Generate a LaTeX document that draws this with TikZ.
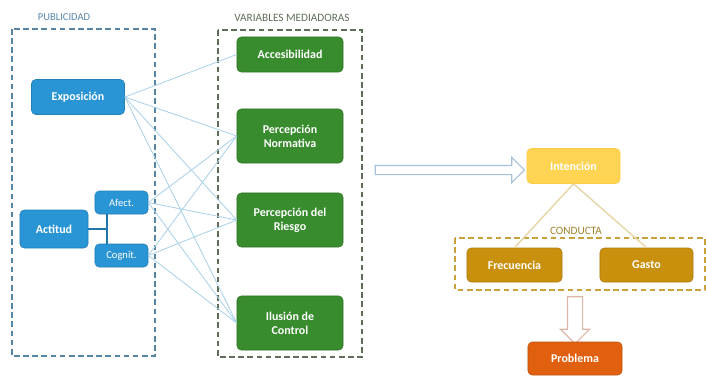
\documentclass[tikz,border=0pt]{standalone}
\usepackage{fontspec}
\setmainfont{Carlito}
\usetikzlibrary{positioning,shapes.arrows}
\definecolor{pubblue}{HTML}{2A95D5}
\definecolor{medgreen}{HTML}{388C2E}
\definecolor{intyellow}{HTML}{FFD452}
\definecolor{condochre}{HTML}{C8900C}
\definecolor{probred}{HTML}{E0600F}
\definecolor{linkblue}{HTML}{A9D2E8}
\definecolor{linktan}{HTML}{E6D6A6}
\definecolor{framepub}{HTML}{5586A8}
\definecolor{framemed}{HTML}{5E6E58}
\definecolor{framecond}{HTML}{C8A13A}
\definecolor{arrowblue}{HTML}{A8C0D8}
\definecolor{arrowpink}{HTML}{DDB8A8}
\tikzset{
  bx/.style={rounded corners=3pt, align=center, text=white, inner sep=2pt,
             font=\fontsize{8.5}{10}\selectfont\bfseries},
  bx pub/.style={bx, fill=pubblue, draw=pubblue!85!black},
  bx sub/.style={bx pub, font=\fontsize{7.5}{9}\selectfont},
  bx med/.style={bx, fill=medgreen, draw=medgreen!85!black, minimum width=26.5mm},
  bx int/.style={bx, fill=intyellow, draw=intyellow!90!orange},
  bx cond/.style={bx, fill=condochre, draw=condochre!85!black},
  bx prob/.style={bx, fill=probred, draw=probred!85!black},
  bx frame/.style={dash pattern=on 4pt off 2.5pt, line width=1.1pt},
  bx link/.style={draw=linkblue, line width=0.6pt},
  bx head/.style={font=\fontsize{7.5}{9}\selectfont, inner sep=0pt},
  bx hollow/.style={single arrow, draw, fill=white, line width=0.8pt, inner sep=0pt,
                    single arrow tip angle=90},
}
\begin{document}
\begin{tikzpicture}[x=0.025cm, y=-0.025cm]
  \useasboundingbox (0,0) rectangle (706,377);
  % publicidad
  \draw[bx frame, framepub] (12,29) rectangle (155,356);
  \node[bx head, text=framepub] (hpub) at (64,17) {PUBLICIDAD};
  \node[bx pub, minimum width=23.25mm, minimum height=8.75mm] (expo) at (78,97) {Exposición};
  \node[bx pub, minimum width=17mm, minimum height=9.5mm] (acti) at (54,229) {Actitud};
  \node[bx sub, minimum width=13.25mm, minimum height=5.75mm] (afec) at (121.5,202.5) {Afect.};
  \node[bx sub, minimum width=13.25mm, minimum height=5.75mm] (cogn) at (121.5,255.5) {Cognit.};
  \coordinate (rama) at (107,229);
  \draw[pubblue!80!black, line width=0.8pt] (acti.east) -- (rama);
  \draw[pubblue!80!black, line width=0.8pt] (afec.south -| rama) -- (cogn.north -| rama);
  % variables mediadoras
  \draw[bx frame, framemed] (218,30) rectangle (362,357);
  \node[bx head, text=framemed, font=\fontsize{8}{9}\selectfont] (hmed) at (292,18) {VARIABLES MEDIADORAS};
  \node[bx med, minimum height=8.75mm] (acce) at (290,54.5) {Accesibilidad};
  \node[bx med, minimum height=13.5mm] (norm) at (290,136) {Percepción\\Normativa};
  \node[bx med, minimum height=13.5mm] (ries) at (290,220) {Percepción del\\Riesgo};
  \node[bx med, minimum height=13.5mm] (ilus) at (290,323) {Ilusión de\\Control};
  % links between both groups
  \foreach \t in {acce,norm,ries,ilus} \draw[bx link] (expo.east) -- (\t.west);
  \foreach \s in {afec,cogn}
    \foreach \t in {norm,ries,ilus} \draw[bx link] (\s.east) -- (\t.west);
  % conducta
  \node[bx hollow, draw=arrowblue, minimum height=37.25mm, minimum width=6mm,
        single arrow head extend=2mm, inner ysep=1mm] (flecha) at (447.5,170) {};
  \node[bx int, minimum width=23.25mm, minimum height=8.75mm] (inte) at (573.5,166) {Intención};
  \draw[bx frame, framecond] (455,238) rectangle (705,290);
  \node[bx head, text=framecond!80!black, font=\fontsize{8}{9}\selectfont] (hcond) at (576,231) {CONDUCTA};
  \node[bx cond, minimum width=23.75mm, minimum height=8.5mm] (frec) at (514.5,265) {Frecuencia};
  \node[bx cond, minimum width=23.25mm, minimum height=8.5mm] (gast) at (646.5,265) {Gasto};
  \draw[linktan, line width=1pt] (inte.south) -- (frec.north);
  \draw[linktan, line width=1pt] (inte.south) -- (gast.north);
  \node[bx hollow, draw=arrowpink, shape border rotate=270, minimum height=11.75mm,
        minimum width=7mm, single arrow head extend=1.75mm, inner sep=1.75mm] (bajada) at (575,316.5) {};
  \node[bx prob, minimum width=23.5mm, minimum height=8.25mm] (prob) at (575,358.5) {Problema};
\end{tikzpicture}
\end{document}
